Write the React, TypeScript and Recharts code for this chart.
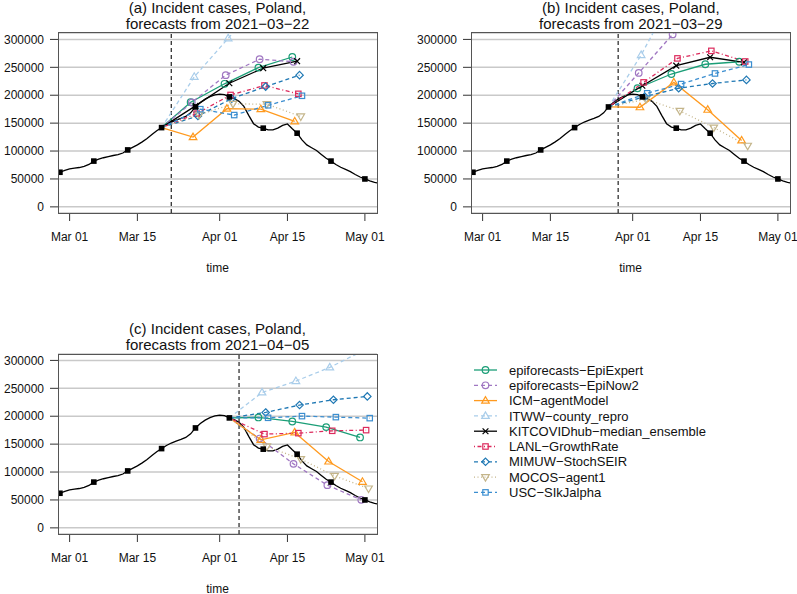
import React from 'react'
import { LineChart, Line, XAxis, YAxis, CartesianGrid, ReferenceLine } from 'recharts'

const FONT = '"Liberation Sans", Arial, Helvetica, sans-serif'

// x values are days counted from 2021-03-01 (day 0)
const truthDays = [
  -3, -2, -1, 0, 1, 2, 3, 4, 5, 6, 7, 8, 9, 10, 11, 12, 13, 14, 15, 16, 17, 18, 19, 20, 21, 22,
  23, 24, 25, 26, 27, 28, 29, 30, 31, 32, 33, 34, 35, 36, 37, 38, 39, 40, 41, 42, 43, 44, 45, 46,
  47, 48, 49, 50, 51, 52, 53, 54, 55, 56, 57, 58, 59, 60, 61, 62, 63, 64,
]
const truthCases = [
  59000, 62000, 65500, 68000, 69500, 70500, 72500, 76000, 82000, 85500, 88000, 90000, 92000,
  93500, 96500, 102000, 106500, 111000, 116500, 122500, 129500, 136500, 142000, 147500, 152000,
  155500, 158500, 162000, 168500, 179000, 187000, 193000, 197500, 200500, 202000, 201000, 197000,
  194000, 189000, 180000, 164000, 149000, 143000, 141000, 138000, 138000, 141000, 146000, 148500,
  140000, 132000, 120000, 111000, 106000, 101000, 94000, 87000, 82000, 76000, 71000, 67000, 63000,
  58000, 53500, 50000, 46500, 44000, 42000,
]
// weekly (Saturday) observation markers
const weeklyDays = [-2, 5, 12, 19, 26, 33, 40, 47, 54, 61]

const tickDays = [0, 14, 31, 45, 61]
const tickLabels = ['Mar 01', 'Mar 15', 'Apr 01', 'Apr 15', 'May 01']
const yTicks = [0, 50000, 100000, 150000, 200000, 250000, 300000]

const models = [
  'epiforecasts-EpiExpert',
  'epiforecasts-EpiNow2',
  'ICM-agentModel',
  'ITWW-county_repro',
  'KITCOVIDhub-median_ensemble',
  'LANL-GrowthRate',
  'MIMUW-StochSEIR',
  'MOCOS-agent1',
  'USC-SIkJalpha',
]
// small horizontal shift (days) per model so markers do not overlap
const modelShift = [-1, -0.75, -0.5, -0.25, 0, 0.25, 0.5, 0.75, 1]

const STYLES = [
  { color: '#1b9e77', dash: undefined, shape: 'circle' },
  { color: '#a077c2', dash: '4 3', shape: 'circle' },
  { color: '#ff9a1f', dash: undefined, shape: 'triangle' },
  { color: '#a9cdea', dash: '4 3', shape: 'triangle' },
  { color: '#000000', dash: undefined, shape: 'x' },
  { color: '#dc2a5c', dash: '1 2.5 4 2.5', shape: 'square' },
  { color: '#1f78b4', dash: '4 3', shape: 'diamond' },
  { color: '#c4b58a', dash: '1 2.5', shape: 'triangleDown' },
  { color: '#3b8ed0', dash: '4 3', shape: 'square' },
]

// (a) forecasts from 2021-03-22, last observation Mar 20
const targetsA = [26, 33, 40, 47]
const forecastsA: (number[] | null)[] = [
  [187500, 220500, 249500, 268500],
  [187000, 236000, 264500, 260000],
  [125000, 176000, 175000, 153000],
  [233000, 302000, 370000, 440000],
  [181000, 221500, 248500, 261000],
  [167000, 200500, 217500, 202500],
  [163000, 194000, 215500, 236000],
  [165000, 184500, 184000, 162000],
  [175000, 164500, 182000, 199000],
]

// (b) forecasts from 2021-03-29, last observation Mar 27
const targetsB = [33, 40, 47, 54]
const forecastsB: (number[] | null)[] = [
  [212500, 238000, 255500, 260000],
  [240000, 309000, 380000, 440000],
  [178500, 223000, 174000, 119000],
  [272000, 385000, 460000, 530000],
  [217000, 253000, 268000, 259000],
  [223000, 266000, 279500, 260500],
  [197500, 212500, 221000, 227500],
  [193000, 172000, 142000, 109500],
  [203500, 220000, 239000, 255000],
]

// (c) forecasts from 2021-04-05, last observation Apr 03
const targetsC = [40, 47, 54, 61]
const forecastsC: (number[] | null)[] = [
  [197800, 190600, 180500, 162000],
  [160000, 114700, 76500, 50200],
  [157800, 171000, 118900, 82500],
  [242600, 263000, 287500, 318000],
  null,
  [168000, 169700, 173900, 175100],
  [206800, 220000, 229500, 235500],
  [146000, 123100, 93200, 70500],
  [197200, 200200, 198400, 196600],
]

const truthData = truthDays.map((d, i) => ({ x: d, y: truthCases[i] }))
const weeklyData = weeklyDays.map((d) => ({ x: d, y: truthCases[truthDays.indexOf(d)] }))

function Marker({ shape, x, y, color }: { shape: string; x: number; y: number; color: string }) {
  const sw = 1.2
  switch (shape) {
    case 'circle':
      return <circle cx={x} cy={y} r={3.3} fill="#fff" fillOpacity={0} stroke={color} strokeWidth={sw} />
    case 'triangle':
      return (
        <polygon
          points={`${x},${y - 4} ${x - 3.8},${y + 2.5} ${x + 3.8},${y + 2.5}`}
          fill="none"
          stroke={color}
          strokeWidth={sw}
        />
      )
    case 'triangleDown':
      return (
        <polygon
          points={`${x},${y + 4} ${x - 3.8},${y - 2.5} ${x + 3.8},${y - 2.5}`}
          fill="none"
          stroke={color}
          strokeWidth={sw}
        />
      )
    case 'square':
      return <rect x={x - 2.7} y={y - 2.7} width={5.4} height={5.4} fill="none" stroke={color} strokeWidth={sw} />
    case 'diamond':
      return (
        <polygon
          points={`${x},${y - 3.7} ${x + 3.7},${y} ${x},${y + 3.7} ${x - 3.7},${y}`}
          fill="none"
          stroke={color}
          strokeWidth={sw}
        />
      )
    case 'x':
      return (
        <path
          d={`M${x - 2.9},${y - 2.9}L${x + 2.9},${y + 2.9}M${x - 2.9},${y + 2.9}L${x + 2.9},${y - 2.9}`}
          stroke={color}
          strokeWidth={sw}
        />
      )
    default:
      return <rect x={x - 2.8} y={y - 2.8} width={5.6} height={5.6} fill={color} />
  }
}

function makeDot(shape: string, color: string, skipFirst: boolean) {
  return (props: any) => {
    const { cx, cy, index } = props
    if ((skipFirst && index === 0) || cx == null || cy == null) return <g key={`d-${index}`} />
    return (
      <g key={`d-${index}`}>
        <Marker shape={shape} x={cx} y={cy} color={color} />
      </g>
    )
  }
}

interface PanelProps {
  title: string
  date: string
  forecastDay: number
  originDay: number
  targets: number[]
  forecasts: (number[] | null)[]
  left: number
  top: number
}

function Panel({ title, date, forecastDay, originDay, targets, forecasts, left, top }: PanelProps) {
  const originValue = truthCases[truthDays.indexOf(originDay)]
  return (
    <div style={{ position: 'absolute', left, top, width: 400, height: 290 }}>
      <div
        style={{
          position: 'absolute',
          left: 58,
          top: -0.5,
          width: 319,
          textAlign: 'center',
          fontFamily: FONT,
          fontSize: 15,
          lineHeight: '16px',
          color: '#111',
          whiteSpace: 'nowrap',
        }}
      >
        <div>{title}</div>
        <div>forecasts from {date.replace(/-/g, '\u2212')}</div>
      </div>
      <LineChart width={400} height={290} margin={{ top: 33, right: 23, bottom: 0, left: 0 }}>
        <CartesianGrid vertical={false} stroke="#c9c9c9" strokeWidth={1.5} />
        <XAxis
          type="number"
          dataKey="x"
          domain={[-2.4, 63.5]}
          allowDataOverflow
          ticks={tickDays}
          interval={0}
          tickFormatter={(d) => tickLabels[tickDays.indexOf(d)]}
          tickSize={8}
          tickMargin={11}
          axisLine={false}
          tickLine={{ stroke: '#333' }}
          tick={{ fill: '#111', fontSize: 12, fontFamily: FONT }}
          height={77}
          label={{ value: 'time', position: 'insideBottom', offset: 18, fill: '#111', fontSize: 12, fontFamily: FONT }}
        />
        <YAxis
          type="number"
          domain={[-11000, 311500]}
          allowDataOverflow
          ticks={yTicks}
          interval={0}
          width={58}
          tickSize={8}
          tickMargin={6}
          axisLine={false}
          tickLine={{ stroke: '#333' }}
          tick={{ fill: '#111', fontSize: 12, fontFamily: FONT }}
        />
        <ReferenceLine x={forecastDay} stroke="#222" strokeWidth={1.2} strokeDasharray="4 3" />
        <Line
          data={truthData}
          dataKey="y"
          type="linear"
          stroke="#000"
          strokeWidth={1.3}
          dot={false}
          activeDot={false}
          isAnimationActive={false}
        />
        {models.map((m, i) => {
          const vals = forecasts[i]
          if (!vals) return null
          const pts = [
            { x: originDay, y: originValue },
            ...vals.map((v, k) => ({ x: targets[k] + modelShift[i], y: v })),
          ]
          const st = STYLES[i]
          return (
            <Line
              key={m}
              data={pts}
              dataKey="y"
              type="linear"
              stroke={st.color}
              strokeWidth={1.3}
              strokeDasharray={st.dash}
              dot={makeDot(st.shape, st.color, true)}
              activeDot={false}
              isAnimationActive={false}
            />
          )
        })}
        <Line
          data={weeklyData}
          dataKey="y"
          stroke="none"
          dot={makeDot('filledSquare', '#000', false)}
          activeDot={false}
          isAnimationActive={false}
        />
      </LineChart>
      <div
        style={{
          position: 'absolute',
          left: 57.5,
          top: 32.3,
          width: 320,
          height: 181.5,
          border: '1.4px solid #555',
          boxSizing: 'border-box',
          pointerEvents: 'none',
        }}
      />
    </div>
  )
}

function ModelLegend() {
  return (
    <svg style={{ position: 'absolute', left: 0, top: 0 }} width={797} height={594}>
      {models.map((m, i) => {
        const st = STYLES[i]
        const y = 370 + i * 15.3
        return (
          <g key={m}>
            <line x1={474} x2={497} y1={y} y2={y} stroke={st.color} strokeWidth={1.3} strokeDasharray={st.dash} />
            <Marker shape={st.shape} x={485.5} y={y} color={st.color} />
            <text x={509} y={y} dy="0.36em" fontSize={13} fontFamily={FONT} fill="#111">
              {m.replace(/-/g, '\u2212')}
            </text>
          </g>
        )
      })}
    </svg>
  )
}

export default function App() {
  return (
    <div
      style={{
        position: 'absolute',
        left: 0,
        top: 0,
        width: 797,
        height: 594,
        overflow: 'hidden',
        background: '#fff',
      }}
    >
      <Panel
        title="(a) Incident cases, Poland,"
        date="2021-03-22"
        forecastDay={21}
        originDay={19}
        targets={targetsA}
        forecasts={forecastsA}
        left={0}
        top={0}
      />
      <Panel
        title="(b) Incident cases, Poland,"
        date="2021-03-29"
        forecastDay={28}
        originDay={26}
        targets={targetsB}
        forecasts={forecastsB}
        left={413.3}
        top={0}
      />
      <Panel
        title="(c) Incident cases, Poland,"
        date="2021-04-05"
        forecastDay={35}
        originDay={33}
        targets={targetsC}
        forecasts={forecastsC}
        left={0}
        top={321.3}
      />
      <ModelLegend />
    </div>
  )
}
